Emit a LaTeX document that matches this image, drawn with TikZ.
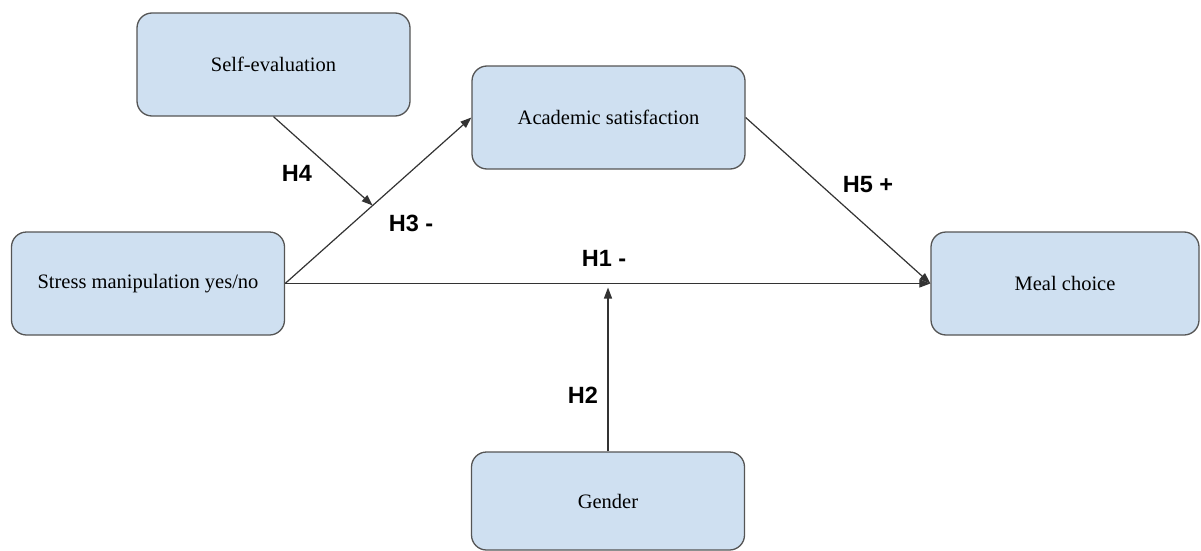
\documentclass[tikz,border=0pt]{standalone}
\usepackage{fontspec}
\setmainfont{Liberation Serif}
\newfontfamily\labelfont{Liberation Sans}
\usetikzlibrary{arrows.meta,calc}
\definecolor{boxfill}{HTML}{CFE0F1}
\definecolor{boxline}{HTML}{555555}
\definecolor{linecol}{HTML}{333333}
\tikzset{
  varbox/.style={rectangle, rounded corners=15pt, draw=boxline, fill=boxfill,
    line width=1.3pt, minimum width=273pt, minimum height=103pt, inner sep=0pt,
    font=\fontsize{20.5}{24}\selectfont, text=black},
  conn/.style={draw=linecol, line width=1.2pt, -{Triangle[length=11pt,width=8pt]}},
  hyp/.style={font=\labelfont\bfseries\fontsize{23.5}{26}\selectfont, text=black, inner sep=0pt}
}
\begin{document}
\begin{tikzpicture}[x=1pt,y=-1pt]
\useasboundingbox (0,0) rectangle (1201,551);
\node[varbox] (self) at (273.5,64.5) {Self-evaluation};
\node[varbox] (acad) at (608.5,117.5) {Academic satisfaction};
\node[varbox] (stress) at (148,283.5) {Stress manipulation yes/no};
\node[varbox, minimum width=268pt] (meal) at (1065,283.5) {Meal choice};
\node[varbox, minimum height=98pt] (gender) at (608,501) {Gender};

\coordinate (m) at ($(stress.east)!0.47!(acad.west)$);
\coordinate (g) at ($(gender.north |- meal.west)+(0,4)$);

\draw[conn] (stress.east) -- (acad.west);
\draw[conn] (stress.east) -- (meal.west);
\draw[conn] (acad.east) -- (meal.west);
\draw[conn] (self.south) -- (m);
\draw[conn] (gender.north) -- (g);

\node[hyp] (h4) at (297,173) {H4};
\node[hyp] (h3) at (411,223) {H3 -};
\node[hyp] (h5) at (868,185) {H5 +};
\node[hyp] (h1) at (604,258) {H1 -};
\node[hyp] (h2) at (583,395) {H2};
\end{tikzpicture}
\end{document}
